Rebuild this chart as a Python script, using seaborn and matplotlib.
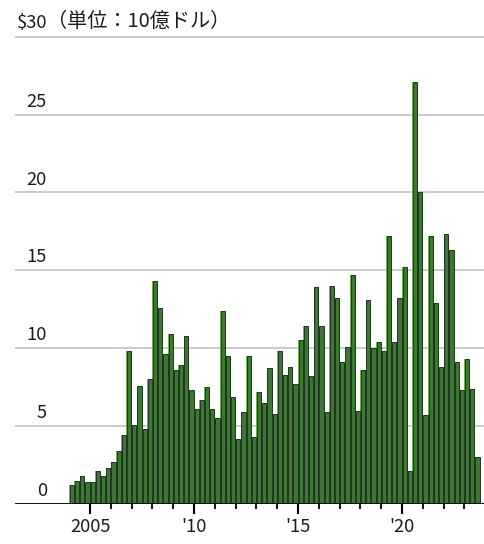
import matplotlib.pyplot as plt
import matplotlib.transforms as mtransforms
import numpy as np
import pandas as pd
import seaborn as sns

# quarterly values, $ billions, 2004 Q1 .. 2023 Q3
years = [y for y in range(2004, 2024) for _ in range(4)][:79]
quarters = [q for _ in range(2004, 2024) for q in (1, 2, 3, 4)][:79]
values = [
    1.2, 1.5, 1.8, 1.4,
    1.4, 2.1, 1.8, 2.3,
    2.7, 3.4, 4.4, 9.8,
    5.1, 7.6, 4.8, 8.0,
    14.3, 12.6, 9.6, 10.9,
    8.6, 8.9, 10.8, 7.3,
    6.1, 6.7, 7.5, 6.1,
    5.5, 12.4, 9.5, 6.9,
    4.2, 5.9, 9.5, 4.3,
    7.2, 6.5, 8.7, 5.8,
    9.8, 8.3, 8.8, 7.7,
    10.5, 11.4, 8.2, 13.9,
    11.4, 5.9, 14.0, 13.2,
    9.1, 10.1, 14.7, 6.0,
    8.6, 13.1, 10.0, 10.4,
    9.8, 17.2, 10.4, 13.2,
    15.2, 2.1, 27.1, 20.0,
    5.7, 17.2, 12.9, 8.8,
    17.3, 16.3, 9.1, 7.3,
    9.3, 7.4, 3.0,
]
y_labels = ["0", "5", "10", "15", "20", "25"]
x_major = [2005, 2010, 2015, 2020]
x_major_labels = ["2005", "'10", "'15", "'20"]

df = pd.DataFrame({"year": years, "quarter": quarters, "value": values})
df["t"] = df["year"] + (df["quarter"] - 1) * 0.25 + 0.125

sns.set_style("white")
plt.rcParams["font.family"] = ["Noto Sans CJK JP", "DejaVu Sans"]

fig = plt.figure(figsize=(4.84, 5.44), dpi=100)
ax = fig.add_axes([15 / 484, 40 / 544, 469 / 484, 473.6 / 544])

# light separator layer, then the darker bars on top
sns.barplot(data=df, x="t", y="value", native_scale=True, width=1.0,
            color="#74b350", saturation=1, errorbar=None, linewidth=0, ax=ax)
sns.barplot(data=df, x="t", y="value", native_scale=True, width=0.8,
            color="#3e7636", saturation=1, errorbar=None,
            edgecolor="#1d371d", linewidth=0.7, ax=ax)

ax.set_xlim(2001.39, 2023.94)
ax.set_ylim(0, 30.4)

for v in [5, 10, 15, 20, 25, 30]:
    ax.axhline(v, color="#c6c6c6", lw=1.3, zorder=0)
ax.axhline(0, color="black", lw=2, zorder=5)

txt = "#1c1c1c"
trans = mtransforms.blended_transform_factory(ax.transAxes, ax.transData)
lab_x = 32 / 469
for i, lab in enumerate(y_labels):
    ax.text(lab_x, i * 5 + 0.25, lab, transform=trans, ha="right", va="bottom",
            fontsize=13.2, color=txt)
ax.text(lab_x, 30.3, "$30", transform=trans, ha="right", va="bottom",
        fontsize=13.2, color=txt)
ax.text(lab_x, 30.3, "（単位：10億ドル）", transform=trans, ha="left", va="bottom",
        fontsize=14.5, color=txt)

ax.set_yticks([])
ax.set_xticks(x_major)
ax.set_xticklabels(x_major_labels, fontsize=13.2, color=txt)
ax.set_xticks([y for y in range(2006, 2024) if y not in x_major], minor=True)
ax.tick_params(axis="x", which="major", direction="out", length=7, width=1.5,
               color="black", pad=3, bottom=True)
ax.tick_params(axis="x", which="minor", direction="out", length=3.5, width=1.3,
               color="black", bottom=True)
ax.set_xlabel("")
ax.set_ylabel("")
for s in ax.spines.values():
    s.set_visible(False)

fig.savefig("out.png", dpi=100)
